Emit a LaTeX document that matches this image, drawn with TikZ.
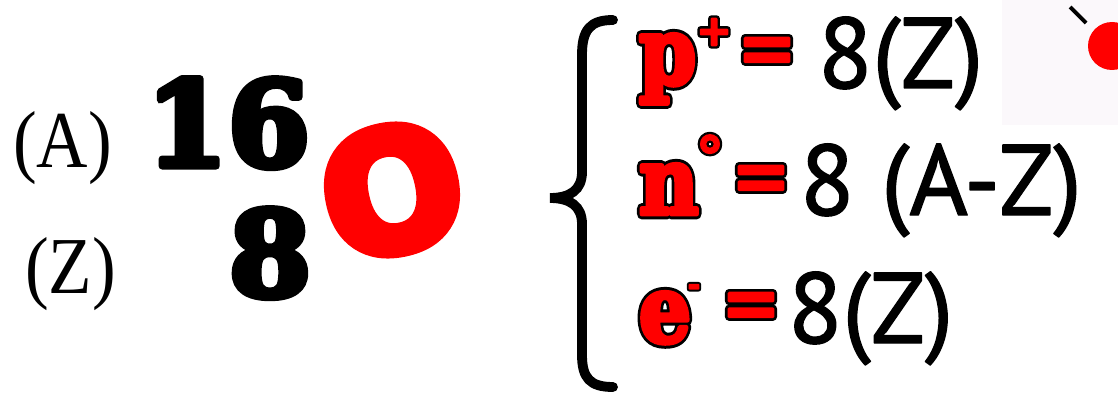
\documentclass[tikz,border=0pt]{standalone}
\usepackage{fontspec}
\setmainfont{Liberation Serif}
\newfontfamily\serifHeavy{DejaVu Serif Bold}
\newfontfamily\sansHeavy{DejaVu Sans Bold}
\newfontfamily\gill{PT Sans}
\definecolor{redA}{RGB}{255,0,0}
\definecolor{paleBg}{RGB}{251,248,251}
% PDF text render mode 2 with the text's own colour: a heavier glyph
\newcommand\thicken[2]{\special{pdf:literal 2 Tr #1 w 1 j}#2\special{pdf:literal 0 Tr}}
% red glyph over a heavier black copy of itself: red letter with black outline
\newcommand\redOutlined[3]{\rlap{\color{black}\thicken{#2}{#3}}\thicken{#1}{#3}}
\tikzset{
  t/.style={inner sep=0pt, outer sep=0pt},
  serifLbl/.style={t, anchor=base west, font=\fontsize{46}{50}\selectfont},
  bigDigit/.style={t, font=\serifHeavy\fontsize{67}{70}\selectfont},
  redLetter/.style={t, anchor=base west, text=redA, font=\serifHeavy\fontsize{53}{56}\selectfont},
  eqSign/.style={t, text=redA, font=\sansHeavy\fontsize{40}{44}\selectfont},
  supPlus/.style={t, text=redA, font=\sansHeavy\fontsize{24}{26}\selectfont},
  supDeg/.style={t, text=redA, font=\sansHeavy\fontsize{32}{34}\selectfont},
  supMinus/.style={t, text=redA, font=\sansHeavy\fontsize{17}{19}\selectfont},
  sansTxt/.style={t, anchor=base west, font=\gill\fontsize{57}{60}\selectfont},
}
\begin{document}
\begin{tikzpicture}[x=0.02cm, y=-0.02cm]
\useasboundingbox (0,0) rectangle (1118,395);
\fill[paleBg] (1002,0) rectangle (1118,125);
% left: isotope notation
\node[serifLbl] (lblA) at (13,167) {\scalebox{0.88}[1]{(A)}};
\node[serifLbl] (lblZ) at (25,293) {\scalebox{0.88}[1]{(Z)}};
\node[bigDigit, anchor=base west] (massNum) at (146,166) {\thicken{4}{16}};
\node[bigDigit, anchor=base east] (atomNum) at (311,296) {\thicken{4}{8}};
\node[t, text=redA, rotate=12, font=\sansHeavy\fontsize{93}{96}\selectfont] (sym) at (392,190) {\thicken{7}{O}};
% brace
\draw[line width=5.6pt, line cap=round]
  (613,20) .. controls (590,20) and (582,30) .. (582,55) -- (582,172)
  .. controls (582,190) and (570,198) .. (550,198)
  .. controls (570,198) and (582,206) .. (582,224) -- (582,355)
  .. controls (582,378) and (590,387) .. (613,387);
% line 1
\node[redLetter] (p) at (639,84) {\scalebox{0.88}[1]{\redOutlined{2.8}{6.2}{p}}};
\node[supPlus] (plus) at (714,32) {\redOutlined{1.2}{4}{+}};
\node[eqSign] (eqOne) at (767,55) {\redOutlined{1.5}{4.6}{=}};
\node[sansTxt] (v1) at (818,88) {\thicken{0.8}{8(Z)}};
% line 2
\node[redLetter] (n) at (639,214) {\scalebox{0.88}[1]{\redOutlined{2.8}{6.2}{n}}};
\node[supDeg] (deg) at (710,156) {\redOutlined{1}{3.6}{°}};
\node[eqSign] (eqTwo) at (761,183) {\redOutlined{1.5}{4.6}{=}};
\node[sansTxt] (v2) at (800,215) {\thicken{0.8}{8 (A-Z)}};
% line 3
\node[redLetter] (e) at (639,342) {\scalebox{0.88}[1]{\redOutlined{2.8}{6.2}{e}}};
\node[supMinus] (minus) at (694,290) {\redOutlined{0.8}{3}{-}};
\node[eqSign] (eqThree) at (751,310) {\redOutlined{1.5}{4.6}{=}};
\node[sansTxt] (v3) at (788,343) {\thicken{0.8}{8(Z)}};
% top-right fragment
\fill[redA] (1112,46) circle (24);
\coordinate (tickA) at (1070,7);
\coordinate (tickB) at (1086,23);
\draw[line width=2.2pt] (tickA) -- (tickB);
\end{tikzpicture}
\end{document}
